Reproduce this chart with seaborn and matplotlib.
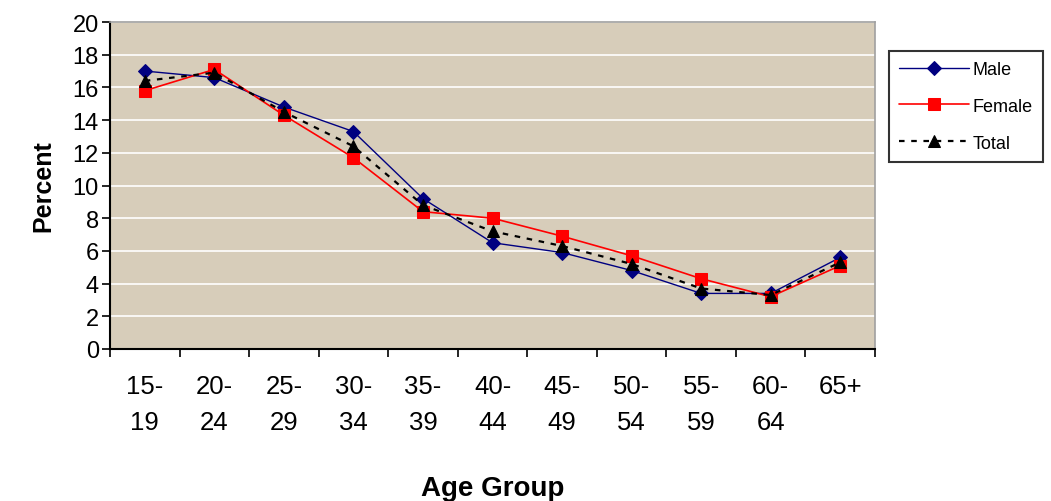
import numpy as np
import pandas as pd
import matplotlib
matplotlib.use("Agg")
import matplotlib.pyplot as plt
import matplotlib.transforms as mtransforms
import seaborn as sns
from matplotlib.ticker import FixedLocator

age_groups = ["15-\n19", "20-\n24", "25-\n29", "30-\n34", "35-\n39", "40-\n44",
              "45-\n49", "50-\n54", "55-\n59", "60-\n64", "65+"]
male = [17.0, 16.6, 14.8, 13.3, 9.2, 6.5, 5.9, 4.8, 3.4, 3.4, 5.6]
female = [15.8, 17.1, 14.3, 11.7, 8.4, 8.0, 6.9, 5.7, 4.3, 3.2, 5.1]
total = [16.4, 16.9, 14.5, 12.4, 8.8, 7.2, 6.3, 5.2, 3.7, 3.3, 5.3]

sns.set_theme(style="white")
plt.rcParams['font.family'] = ['Liberation Sans', 'DejaVu Sans']
plt.rcParams['text.color'] = 'black'
plt.rcParams['axes.labelcolor'] = 'black'
plt.rcParams['xtick.color'] = 'black'
plt.rcParams['ytick.color'] = 'black'

fig = plt.figure(figsize=(10.51, 5.02), dpi=100)
ax = fig.add_axes([110/1051, 1-350/502, (875-110)/1051, (350-23)/502])
ax.set_facecolor('#d7cdba')

x = np.arange(len(age_groups))
df = pd.DataFrame({"x": x, "Male": male, "Female": female, "Total": total})

sns.lineplot(data=df, x="x", y="Male", ax=ax, color='#000080', lw=1,
             marker='D', markersize=7, markeredgecolor='#000080', label='Male')
sns.lineplot(data=df, x="x", y="Female", ax=ax, color='#ff0000', lw=1.2,
             marker='s', markersize=8, markeredgecolor='#ff0000', label='Female')
sns.lineplot(data=df, x="x", y="Total", ax=ax, color='black', lw=1.6,
             linestyle=(0, (2.5, 3)), marker='^', markersize=9,
             markeredgecolor='black', label='Total')

ax.set_xlim(-0.5, len(age_groups) - 0.5)
ax.set_ylim(0, 20)
ax.set_yticks(np.arange(0, 21, 2))
ax.yaxis.grid(True, color='white', lw=1.2)
ax.set_axisbelow(True)

ax.set_xticks(x)
ax.set_xticklabels(age_groups, fontsize=18.5, linespacing=1.65)
ax.xaxis.set_minor_locator(FixedLocator(np.arange(-0.5, len(age_groups), 1)))
ax.tick_params(axis='x', which='major', length=0, pad=18)
ax.tick_params(axis='x', which='minor', length=6, width=1.2, color='black', direction='out', bottom=True)
ax.tick_params(axis='y', labelsize=17, length=6, width=1.2, color='black', direction='out', left=True, pad=2)

for s in ['top', 'right']:
    ax.spines[s].set_color('#a0a0a0')
    ax.spines[s].set_linewidth(1.2)
for s in ['left', 'bottom']:
    ax.spines[s].set_color('black')
    ax.spines[s].set_linewidth(1.5)

ax.set_xlabel("Age Group", fontsize=20, fontweight='bold')
blend = mtransforms.blended_transform_factory(ax.transAxes, fig.transFigure)
ax.xaxis.set_label_coords(0.5, 1 - 476/502, transform=blend)
ax.set_ylabel("Percent", fontsize=18, fontweight='bold', labelpad=12)

leg = ax.legend(loc='upper left', bbox_to_anchor=(889/1051, 1-52/502), bbox_transform=fig.transFigure,
                frameon=True, fancybox=False, fontsize=13, handlelength=3.9,
                borderpad=0.55, labelspacing=1.1, handletextpad=0.2, borderaxespad=0)
leg.get_frame().set_edgecolor('black')
leg.get_frame().set_linewidth(1.5)
leg.get_frame().set_facecolor('white')

fig.savefig("out.png", dpi=100, facecolor='white')
